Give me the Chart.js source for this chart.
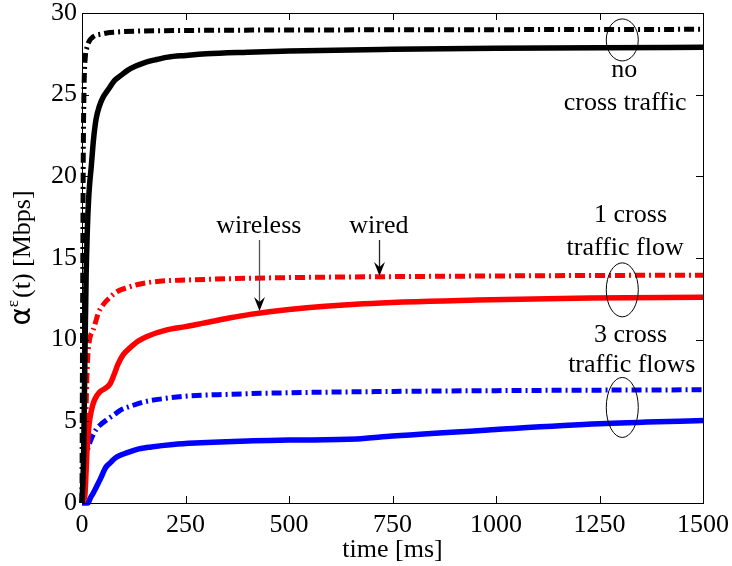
<!DOCTYPE html>
<html><head><meta charset="utf-8">
<script src="https://cdn.jsdelivr.net/npm/chart.js@4.4.0/dist/chart.umd.min.js"></script>
<style>html,body{margin:0;padding:0;background:#fff}#wrap{width:732px;height:566px;position:relative}</style>
</head><body><div id="wrap"><canvas id="c" width="732" height="566"></canvas></div>
<script>
// ---- data (time in ms, rate in Mbps) ----
const xTickValues = [0,250,500,750,1000,1250,1500];
const yTickValues = [0,5,10,15,20,25,30];

const noCrossWiredT = [0,1,2,3,5,8,12,18,25,35,45,60,80,100,150,200,300,500,750,1000,1250,1500];
const noCrossWiredV = [0,8,15,21,25.5,27.3,27.9,28.3,28.5,28.65,28.7,28.78,28.83,28.86,28.9,28.92,28.94,28.96,28.97,28.98,28.99,29.0];

const noCrossWirelessT = [0,4,7,10,13,16,19,22,28,34,42,50,63,80,95,111,130,150,180,208,250,300,400,500,750,1000,1250,1500];
const noCrossWirelessV = [0,3,9,14,16.8,18.6,19.7,20.5,22.3,23.5,24.3,24.8,25.3,25.9,26.2,26.5,26.75,26.95,27.15,27.3,27.4,27.5,27.6,27.68,27.78,27.84,27.88,27.9];

const oneCrossWiredT = [0,3,5,8,10,12,14,17,20,27,33,39,50,68,85,111,135,160,200,250,350,500,750,1000,1250,1500];
const oneCrossWiredV = [0,1,2.5,4.2,6,7.8,9,9.8,10.2,10.6,11.1,11.6,12.1,12.6,12.95,13.2,13.38,13.5,13.6,13.65,13.73,13.8,13.86,13.9,13.93,13.95];

const oneCrossWirelessT = [0,7,10,12,17,23,30,43,55,68,78,87,100,116,135,157,205,250,290,350,406,500,679,954,1227,1500];
const oneCrossWirelessV = [0,0.5,2,3.2,4.8,5.7,6.3,6.8,7.0,7.3,7.9,8.5,9.1,9.5,9.9,10.2,10.6,10.8,11.0,11.3,11.55,11.85,12.2,12.43,12.55,12.6];

const threeCrossWiredT = [0,2,3,5,8,10,15,22,34,45,63,80,94,120,152,200,256,350,500,750,1000,1250,1500];
const threeCrossWiredV = [0,0.3,0.8,1.8,2.7,3.0,3.4,3.9,4.5,4.8,5.15,5.45,5.7,5.95,6.2,6.4,6.55,6.65,6.75,6.83,6.88,6.91,6.93];

const threeCrossWirelessT = [0,14,20,27,35,43,58,70,80,95,111,135,167,220,273,400,500,664,750,1000,1250,1500];
const threeCrossWirelessV = [0,0,0.3,0.6,1.0,1.4,2.2,2.5,2.75,2.95,3.1,3.3,3.43,3.58,3.67,3.8,3.85,3.92,4.1,4.5,4.85,5.05];

const pts = (t, v) => t.map((x, i) => ({x: x, y: v[i]}));

const FONT = '"Liberation Serif", "Times New Roman", serif';
const DASHDOT = [10, 4, 2, 4];

function wired(t, v, color) {
  return { data: pts(t, v), borderColor: color, borderWidth: 5, borderDash: DASHDOT,
    borderCapStyle: 'butt', pointRadius: 0, fill: false, cubicInterpolationMode: 'monotone', clip: 6 };
}
function wireless(t, v, color) {
  return { data: pts(t, v), borderColor: color, borderWidth: 5.5,
    borderCapStyle: 'butt', pointRadius: 0, fill: false, cubicInterpolationMode: 'monotone', clip: 6 };
}

const decor = {
  id: 'decor',
  afterDatasetsDraw(chart) {
    const ctx = chart.ctx, a = chart.chartArea;
    const xs = chart.scales.x, ys = chart.scales.y;
    ctx.save();
    // frame
    ctx.strokeStyle = '#000'; ctx.lineWidth = 1;
    ctx.strokeRect(Math.round(a.left) + 0.5, Math.round(a.top) + 0.5, Math.round(a.right - a.left), Math.round(a.bottom - a.top));
    // inward ticks on all four sides
    const TL = 7;
    ctx.beginPath();
    xTickValues.forEach(v => {
      const px = Math.round(xs.getPixelForValue(v)) + 0.5;
      ctx.moveTo(px, a.bottom); ctx.lineTo(px, a.bottom - TL);
      ctx.moveTo(px, a.top); ctx.lineTo(px, a.top + TL);
    });
    yTickValues.forEach(v => {
      const py = Math.round(ys.getPixelForValue(v)) + 0.5;
      ctx.moveTo(a.left, py); ctx.lineTo(a.left + TL, py);
      ctx.moveTo(a.right, py); ctx.lineTo(a.right - TL, py);
    });
    ctx.stroke();

    // ellipses
    ctx.lineWidth = 1;
    const ell = (t, v, rx, ry) => {
      ctx.beginPath();
      ctx.ellipse(xs.getPixelForValue(t), ys.getPixelForValue(v), rx, ry, 0, 0, Math.PI * 2);
      ctx.stroke();
    };
    ell(1305, 28.35, 16, 21);
    ell(1305, 13.05, 16, 27);
    ell(1305, 5.85, 16, 30);

    // text annotations
    ctx.fillStyle = '#000';
    ctx.font = '26px ' + FONT;
    ctx.textAlign = 'center'; ctx.textBaseline = 'alphabetic';
    const txt = (s, t, py) => ctx.fillText(s, xs.getPixelForValue(t), py);
    txt('no', 1310, 77);
    txt('cross traffic', 1312, 110);
    txt('1 cross', 1325, 222);
    txt('traffic flow', 1312, 255);
    txt('3 cross', 1325, 342);
    txt('traffic flows', 1328, 372);
    txt('wireless', 427, 233);
    txt('wired', 717, 233);

    // arrows
    const arrow = (t, y0, vTip, stroke) => {
      const x = Math.round(xs.getPixelForValue(t)) + 0.5;
      const yTip = ys.getPixelForValue(vTip);
      ctx.strokeStyle = stroke; ctx.lineWidth = 1.3;
      ctx.beginPath(); ctx.moveTo(x, y0); ctx.lineTo(x, yTip - 6); ctx.stroke();
      ctx.fillStyle = '#000';
      ctx.beginPath();
      ctx.moveTo(x, yTip);
      ctx.lineTo(x - 5.5, yTip - 14);
      ctx.lineTo(x, yTip - 9);
      ctx.lineTo(x + 5.5, yTip - 14);
      ctx.closePath(); ctx.fill();
    };
    arrow(427, 240, 11.75, '#555');
    arrow(717, 240, 13.9, '#222');

    // axis titles
    ctx.fillStyle = '#000';
    ctx.font = '26px ' + FONT;
    ctx.textAlign = 'center'; ctx.textBaseline = 'alphabetic';
    ctx.fillText('time [ms]', (a.left + a.right) / 2, 557);

    // y title with superscript epsilon
    ctx.translate(30, (a.top + a.bottom) / 2);
    ctx.rotate(-Math.PI / 2);
    const fMain = '26px ' + FONT, fSup = '17px ' + FONT, fAlpha = '28px "DejaVu Sans", sans-serif';
    ctx.font = fAlpha; const wA = ctx.measureText('α').width;
    ctx.font = fSup; const wE = ctx.measureText('ε').width;
    ctx.font = fMain; const wR = ctx.measureText('(t) [Mbps]').width;
    let x0 = -(wA + wE + 2 + wR) / 2;
    ctx.textAlign = 'left';
    ctx.font = fAlpha; ctx.fillText('α', x0, 0); x0 += wA;
    ctx.font = fSup; ctx.fillText('ε', x0, -12); x0 += wE + 2;
    ctx.font = fMain; ctx.fillText('(t) [Mbps]', x0, 0);
    ctx.restore();
  }
};

new Chart(document.getElementById('c'), {
  type: 'line',
  data: {
    datasets: [
      wired(noCrossWiredT, noCrossWiredV, '#000000'),
      wireless(noCrossWirelessT, noCrossWirelessV, '#000000'),
      wired(oneCrossWiredT, oneCrossWiredV, '#ff0000'),
      wireless(oneCrossWirelessT, oneCrossWirelessV, '#ff0000'),
      wired(threeCrossWiredT, threeCrossWiredV, '#0000ff'),
      wireless(threeCrossWirelessT, threeCrossWirelessV, '#0000ff')
    ]
  },
  options: {
    responsive: false, animation: false, devicePixelRatio: 1,
    layout: { padding: { top: 13, right: 29, left: 0, bottom: 0 } },
    plugins: { legend: { display: false }, tooltip: { enabled: false } },
    scales: {
      x: {
        type: 'linear', min: 0, max: 1500,
        afterBuildTicks: s => { s.ticks = xTickValues.map(v => ({ value: v })); },
        ticks: { font: { family: FONT, size: 26 }, color: '#000', padding: 7, maxRotation: 0, autoSkip: false,
                 callback: v => String(v) },
        grid: { display: false, drawTicks: false },
        border: { display: false },
        afterFit: s => { s.height = 63; s.paddingLeft = 0; s.paddingRight = 0; }
      },
      y: {
        type: 'linear', min: 0, max: 30,
        afterBuildTicks: s => { s.ticks = yTickValues.map(v => ({ value: v })); },
        ticks: { font: { family: FONT, size: 26 }, color: '#000', padding: 5, autoSkip: false,
                 callback: v => String(v) },
        grid: { display: false, drawTicks: false },
        border: { display: false },
        afterFit: s => { s.width = 82; s.paddingTop = 0; s.paddingBottom = 0; }
      }
    }
  },
  plugins: [decor]
});
</script>
</body></html>
